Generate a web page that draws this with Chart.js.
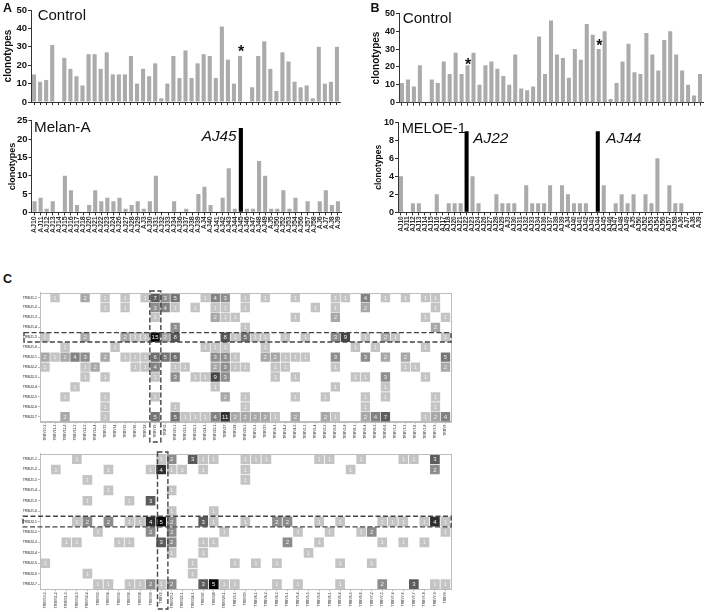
<!DOCTYPE html>
<html><head><meta charset="utf-8">
<style>html,body{margin:0;padding:0;background:#fff;width:708px;height:612px;overflow:hidden}
canvas{position:absolute;display:block}
.t{position:absolute;line-height:1;white-space:nowrap;font-family:"Liberation Sans",Arial,sans-serif;color:#111;z-index:5}</style>
<script src="https://cdn.jsdelivr.net/npm/chart.js@4"></script></head><body>
<script>
const patients=['AJ10','AJ11','AJ12','AJ13','AJ14','AJ15','AJ16','AJ17','AJ18','AJ20','AJ21','AJ22','AJ23','AJ24','AJ26','AJ27','AJ28','AJ29','AJ3','AJ30','AJ31','AJ32','AJ33','AJ34','AJ36','AJ37','AJ38','AJ39','AJ4','AJ40','AJ41','AJ42','AJ43','AJ44','AJ45','AJ46','AJ47','AJ48','AJ49','AJ5','AJ50','AJ52','AJ53','AJ54','AJ56','AJ57','AJ58','AJ6','AJ7','AJ8','AJ9'];
const controlA=[15,11,12,31,0,24,18,14,9,26,26,18,27,15,15,15,25,10,18,14,21,2,10,25,13,28,13,21,26,25,13,41,23,10,25,0,8,25,33,18,6,27,22,11,8,9,2,30,10,11,30];
const melanA=[3,4,1,3,0,10,6,2,0,2,6,3,4,3,4,1,2,3,1,3,10,0,0,3,0,1,0,5,7,2,0,4,12,1,23,1,1,14,10,1,1,6,1,4,0,3,0,3,6,2,3];
const controlB=[11,13,9,21,0,13,11,23,16,28,16,21,28,10,21,23,19,15,10,27,8,7,9,37,16,46,27,25,14,30,24,44,38,30,40,2,11,23,33,17,16,39,27,18,35,40,27,18,10,4,16];
const meloe1=[4,0,1,1,0,0,2,0,1,1,1,9,4,1,0,0,2,1,1,1,0,3,1,1,1,3,0,3,2,1,1,1,0,9,3,0,1,2,1,2,0,2,1,6,0,3,1,1,0,0,0];
const highlightA=['AJ45'];
const highlightB=['AJ22','AJ44'];

const trbjLabels=['TRBJ1-1','TRBJ1-2','TRBJ1-3','TRBJ1-4','TRBJ1-5','TRBJ1-6','TRBJ2-1','TRBJ2-2','TRBJ2-3','TRBJ2-4','TRBJ2-5','TRBJ2-6','TRBJ2-7'];
const trbvTop=['TRBV10-3','TRBV11-1','TRBV11-2','TRBV11-3','TRBV12-3','TRBV12-4','TRBV13','TRBV14','TRBV15','TRBV16','TRBV18','TRBV19','TRBV2','TRBV20-1','TRBV21-1','TRBV23-1','TRBV24-1','TRBV25-1','TRBV27','TRBV28','TRBV29-1','TRBV3-1','TRBV30','TRBV4-1','TRBV4-2','TRBV4-3','TRBV5-1','TRBV5-4','TRBV5-5','TRBV5-6','TRBV5-8','TRBV6-1','TRBV6-4','TRBV6-5','TRBV6-6','TRBV7-2','TRBV7-3','TRBV7-6','TRBV7-8','TRBV7-9','TRBV9'];
const trbvBottom=['TRBV10-3','TRBV11-2','TRBV11-3','TRBV12-3','TRBV12-4','TRBV13','TRBV14','TRBV15','TRBV16','TRBV18','TRBV19','TRBV2','TRBV20-1','TRBV23-1','TRBV24-1','TRBV27','TRBV28','TRBV29-1','TRBV3-1','TRBV30','TRBV4-1','TRBV4-2','TRBV4-3','TRBV5-1','TRBV5-4','TRBV5-5','TRBV5-6','TRBV6-1','TRBV6-4','TRBV6-5','TRBV6-6','TRBV7-2','TRBV7-3','TRBV7-4','TRBV7-6','TRBV7-7','TRBV7-8','TRBV7-9','TRBV9'];

// each row: pairs of [TRBV column number, clonotype count]
const topJ11=[[1,1],[4,2],[6,1],[8,1],[10,1],[11,7],[12,3],[13,5],[16,1],[17,4],[18,3],[20,1],[22,1],[25,1],[29,1],[30,1],[32,4],[34,1],[36,1],[38,1],[39,1]];
const topJ12=[[6,1],[8,1],[11,3],[12,4],[13,1],[15,1],[17,1],[18,1],[20,1],[27,1],[29,1],[32,2],[39,1]];
const topJ13=[[11,1],[17,2],[18,1],[19,1],[25,1],[29,2],[38,1],[40,1]];
const topJ14=[[13,3],[20,1],[39,2]];
const topJ15=[[0,1],[4,2],[8,2],[9,1],[10,1],[11,15],[12,2],[13,8],[18,8],[19,1],[20,5],[21,1],[22,1],[24,1],[26,1],[29,3],[30,9],[32,1],[34,2],[35,1],[40,1]];
const topJ16=[[2,1],[7,1],[16,1],[17,1],[18,1],[22,1],[31,1],[33,1],[38,1]];
const topJ21=[[0,2],[1,1],[2,2],[3,4],[4,3],[6,2],[8,1],[9,1],[10,1],[11,6],[12,5],[13,6],[17,3],[18,3],[19,1],[22,2],[23,2],[24,1],[25,1],[26,1],[29,3],[32,3],[34,2],[36,2],[40,5]];
const topJ22=[[0,1],[4,1],[5,2],[9,1],[10,1],[11,4],[13,1],[14,1],[17,2],[18,3],[19,1],[20,1],[23,1],[24,1],[29,1],[36,1],[37,1],[40,2]];
const topJ23=[[4,1],[6,1],[11,1],[13,3],[15,1],[16,1],[17,9],[18,3],[23,1],[25,1],[31,1],[32,1],[34,3],[38,1]];
const topJ24=[[3,1],[17,1],[29,1],[34,1]];
const topJ25=[[2,1],[6,1],[11,1],[18,2],[20,1],[25,1],[28,1],[32,1],[34,1],[39,1]];
const topJ26=[[6,1],[13,1],[20,1],[32,1],[39,1]];
const topJ27=[[2,2],[6,1],[11,5],[13,5],[14,1],[15,1],[16,1],[17,4],[18,11],[19,2],[20,2],[21,2],[22,2],[23,1],[25,2],[28,2],[29,1],[32,2],[33,4],[34,7],[38,1],[39,2],[40,4]];
const topRows=[topJ11,topJ12,topJ13,topJ14,topJ15,topJ16,topJ21,topJ22,topJ23,topJ24,topJ25,topJ26,topJ27];

const botJ11=[[3,1],[11,1],[12,2],[14,3],[15,1],[16,1],[19,1],[20,1],[21,1],[26,1],[27,1],[30,1],[34,1],[35,1],[37,3]];
const botJ12=[[1,1],[6,1],[10,1],[11,4],[12,1],[13,1],[15,1],[19,1],[29,1],[37,2]];
const botJ13=[[4,1],[19,1]];
const botJ14=[[6,1],[12,1]];
const botJ15=[[4,1],[8,1],[10,3]];
const botJ16=[[12,1],[16,1]];
const botJ21=[[3,1],[4,2],[6,2],[8,1],[9,1],[10,4],[11,5],[12,2],[15,3],[16,1],[19,1],[22,2],[23,2],[26,1],[28,1],[32,1],[33,1],[34,1],[36,1],[37,4],[38,1]];
const botJ22=[[5,1],[10,2],[12,2],[17,1],[24,1],[27,1],[30,1],[31,2],[38,1]];
const botJ23=[[2,1],[3,1],[7,1],[8,1],[11,3],[12,2],[15,1],[16,1],[23,2],[26,1],[32,1],[34,1],[36,1]];
const botJ24=[[12,1],[15,1],[25,1]];
const botJ25=[[0,1],[14,1],[18,1],[20,1],[22,1],[28,1],[31,1]];
const botJ26=[[4,1],[14,1]];
const botJ27=[[5,1],[6,1],[8,1],[9,1],[10,2],[11,1],[12,2],[15,3],[16,5],[17,1],[18,1],[22,1],[24,1],[28,1],[32,2],[35,3],[37,1],[38,1]];
const botRows=[botJ11,botJ12,botJ13,botJ14,botJ15,botJ16,botJ21,botJ22,botJ23,botJ24,botJ25,botJ26,botJ27];

const topShades={1:'#c4c4c4',2:'#a8a8a8',3:'#8e8e8e',4:'#828282',5:'#767676',6:'#6e6e6e',7:'#5e5e5e',8:'#565656',9:'#464646',11:'#323232',15:'#080808'};
const botShades={1:'#c4c4c4',2:'#8c8c8c',3:'#5c5c5c',4:'#2e2e2e',5:'#080808'};

const FF='"Liberation Sans",Arial,sans-serif';
Chart.defaults.font.family=FF;

function addCanvas(r){
  const c=document.createElement('canvas');
  c.width=r.cr-r.cl;c.height=r.cb-r.ct;
  c.style.left=r.cl+'px';c.style.top=r.ct+'px';
  c.style.width=(r.cr-r.cl)+'px';c.style.height=(r.cb-r.ct)+'px';
  document.body.appendChild(c);
  return c.getContext('2d');
}
function barPanel(r,values,hl,yMax,step,showLabels,tickSize,titleSize,labelSize){
  new Chart(addCanvas(r),{
    type:'bar',
    data:{labels:patients,datasets:[{data:values,barPercentage:0.68,categoryPercentage:1,
      backgroundColor:patients.map(p=>hl.includes(p)?'#000000':'#ababab')}]},
    options:{responsive:false,animation:false,devicePixelRatio:1,
      layout:{padding:{top:r.t-r.ct,right:r.cr-r.r,left:0,bottom:0}},
      plugins:{legend:{display:false},tooltip:{enabled:false}},
      scales:{
        x:{type:'category',offset:true,
          grid:{offset:false,drawOnChartArea:false,drawTicks:true,tickLength:3,tickColor:'#333',tickWidth:1},
          border:{color:'#333',width:1},
          afterFit:s=>{s.height=r.cb-r.b;},
          ticks:{display:showLabels,autoSkip:false,minRotation:90,maxRotation:90,padding:1,color:'#333',
            font:{size:labelSize,weight:'bold'}}},
        y:{min:0,max:yMax,
          grid:{drawOnChartArea:false,drawTicks:true,tickLength:3,tickColor:'#333'},
          border:{color:'#333',width:1},
          afterFit:s=>{s.width=r.l-r.cl;},
          title:{display:true,text:'clonotypes',color:'#111',padding:0,font:{size:titleSize,weight:'bold'}},
          ticks:{stepSize:step,padding:1,color:'#111',font:{size:tickSize,weight:'bold'}}}
      }
    }
  });
}
const cellText={id:'cellText',afterDatasetsDraw(ch){
  const ctx=ch.ctx,meta=ch.getDatasetMeta(0);
  ctx.save();ctx.fillStyle='#f0f0f0';ctx.textAlign='center';ctx.textBaseline='middle';
  ctx.font='6px '+FF;
  meta.data.forEach((el,i)=>ctx.fillText(String(ch.data.datasets[0].data[i].v),el.x,el.y+0.4));
  ctx.restore();
}};
const boxFrame={id:'boxFrame',afterDatasetsDraw(ch,a,o){
  const ctx=ch.ctx,ca=ch.chartArea,x=ch.scales.x,y=ch.scales.y;
  ctx.save();
  ctx.strokeStyle='#bdbdbd';ctx.lineWidth=1;
  ctx.strokeRect(Math.round(ca.left)+.5,Math.round(ca.top)+.5,Math.round(ca.width),Math.round(ca.height));
  ctx.strokeStyle='#444';ctx.lineWidth=1.4;ctx.setLineDash([5,2.5]);
  const ry=y.getPixelForValue(o.row),cx=x.getPixelForValue(o.col);
  ctx.strokeRect(o.hLeft,ry-o.hHalf,ca.right+0.5-o.hLeft,o.hHalf*2);
  ctx.strokeRect(cx-o.vL,o.vTop-ch.canvas.offsetTop,o.vL+o.vR,o.vBot-o.vTop);
  ctx.restore();
}};
function heatPanel(r,cols,rows,shades,radius,box){
  const cells=[];
  rows.forEach((row,j)=>row.forEach(([c,v])=>cells.push({x:cols[c],y:trbjLabels[j],v})));
  new Chart(addCanvas(r),{
    type:'scatter',
    data:{datasets:[{data:cells,pointStyle:'rect',pointRadius:radius,pointBorderWidth:0,
      pointBackgroundColor:c=>shades[c.raw.v]}]},
    plugins:[cellText,boxFrame],
    options:{responsive:false,animation:false,devicePixelRatio:1,
      layout:{padding:{top:r.t-r.ct,right:r.cr-r.r,left:0,bottom:0}},
      plugins:{legend:{display:false},tooltip:{enabled:false},boxFrame:box},
      scales:{
        x:{type:'category',labels:cols,offset:true,
          grid:{offset:false,drawOnChartArea:false,tickLength:2,tickColor:'#bbb'},
          border:{color:'#bdbdbd'},
          afterFit:s=>{s.height=r.cb-r.b;},
          ticks:{autoSkip:false,minRotation:90,maxRotation:90,padding:1,color:'#666',font:{size:3.4,weight:'bold'}}},
        y:{type:'category',labels:trbjLabels,offset:true,
          grid:{offset:false,drawOnChartArea:false,tickLength:2,tickColor:'#bbb'},
          border:{color:'#bdbdbd'},
          afterFit:s=>{s.width=r.l-r.cl;},
          ticks:{autoSkip:false,padding:1,color:'#666',font:{size:3.5,weight:'bold'}}}
      }
    }
  });
}
function note(text,x,base,size,extra){
  const d=document.createElement('div');d.className='t';d.textContent=text;
  d.style.left=x+'px';d.style.top=(base-0.8465*size)+'px';d.style.fontSize=size+'px';
  if(extra)Object.assign(d.style,extra);
  document.body.appendChild(d);
}

barPanel({cl:2,ct:0,cr:354,cb:115,l:31,t:10,r:340,b:102},controlA,[],50,10,false,9.5,10,7);
barPanel({cl:7,ct:114,cr:354,cb:250,l:31.5,t:120.3,r:341,b:212.3},melanA,highlightA,25,5,true,9.5,9,7);
barPanel({cl:370,ct:0,cr:708,cb:115,l:399,t:13.3,r:703,b:102.7},controlB,[],50,10,false,9,10,7);
barPanel({cl:374,ct:114,cr:708,cb:250,l:398,t:122.3,r:705,b:212.3},meloe1,highlightB,10,2,true,9,8.5,6.5);

heatPanel({cl:0,ct:286,cr:460,cb:445,l:40,t:292.3,r:450.5,b:421.7},trbvTop,topRows,topShades,6.6,
  {row:'TRBJ1-5',col:'TRBV19',hLeft:24,hHalf:4.7,vL:5.3,vR:5.7,vTop:291,vBot:442});
heatPanel({cl:0,ct:447,cr:460,cb:612,l:40,t:453.3,r:450.7,b:589.3},trbvBottom,botRows,botShades,6.85,
  {row:'TRBJ2-1',col:'TRBV2',hLeft:23,hHalf:5.3,vL:3.6,vR:6.8,vTop:452,vBot:609});

const bold={fontWeight:'bold'},ital={fontStyle:'italic'};
note('A',3,12.3,12.5,bold);note('B',370.5,12.3,12.5,bold);note('C',3,283.3,12.5,bold);
note('Control',37.7,20,15);note('Melan-A',34,132.3,15.2);
note('Control',402.7,22.7,15.2);note('MELOE-1',401.7,133.3,14.6);
note('AJ45',201.7,140.7,15.3,ital);note('AJ22',473.3,142.7,15.3,ital);note('AJ44',606.3,142.7,15.3,ital);
note('*',237.9,58,16,bold);note('*',464.9,71,16,bold);note('*',596.2,51.5,16,bold);
</script></body></html>
